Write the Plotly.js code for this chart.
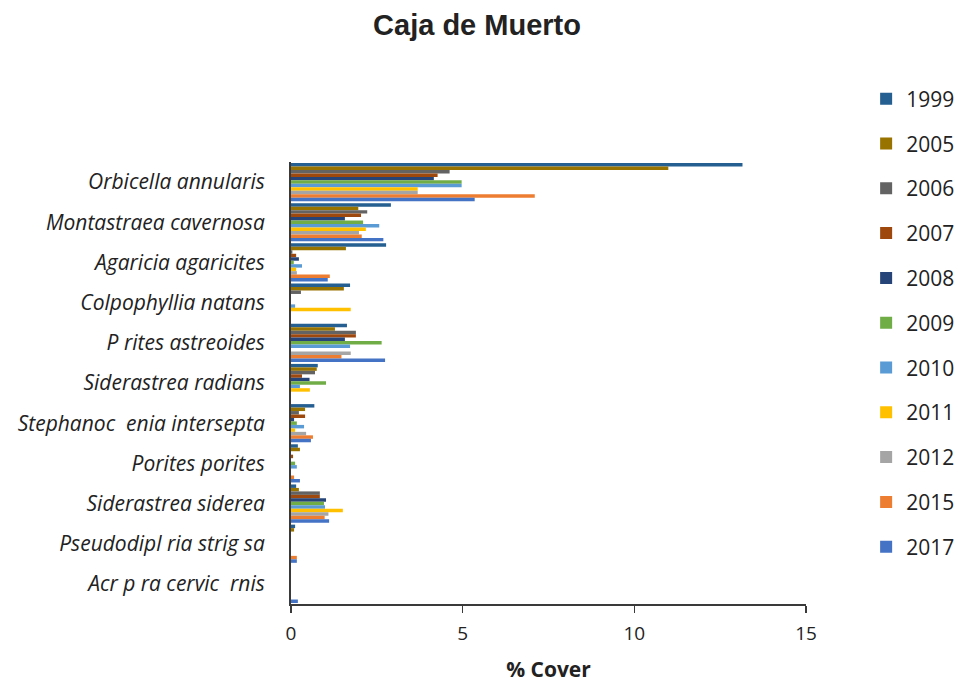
<!DOCTYPE html>
<html>
<head>
<meta charset="utf-8">
<script src="https://cdn.plot.ly/plotly-3.0.1.min.js"></script>
<style>html,body{margin:0;padding:0;background:#fff;}#chart{width:956px;height:683px;}</style>
</head>
<body>
<div id="chart"></div>
<script>
const species = [
  "Orbicella annularis",
  "Montastraea cavernosa",
  "Agaricia agaricites",
  "Colpophyllia natans",
  "P rites astreoides",
  "Siderastrea radians",
  "Stephanoc  enia intersepta",
  "Porites porites",
  "Siderastrea siderea",
  "Pseudodipl ria strig sa",
  "Acr p ra cervic  rnis"
];
const years = ["1999","2005","2006","2007","2008","2009","2010","2011","2012","2015","2017"];
const colors = ["#255E91","#997300","#636363","#9E480E","#264478","#70AD47","#5B9BD5","#FFC000","#A5A5A5","#ED7D31","#4472C4"];

// % cover per year, in species order above
const v1999 = [13.15, 2.91, 2.77, 1.72, 1.63, 0.78, 0.68, 0.20, 0.15, 0.12, 0];
const v2005 = [10.99, 1.96, 1.60, 1.54, 1.28, 0.75, 0.41, 0.26, 0.23, 0.09, 0];
const v2006 = [4.62, 2.22, 0.04, 0.29, 1.89, 0.70, 0.23, 0, 0.84, 0, 0];
const v2007 = [4.27, 2.04, 0.15, 0, 1.89, 0.32, 0.41, 0.06, 0.84, 0, 0];
const v2008 = [4.16, 1.57, 0.23, 0, 1.57, 0.54, 0.09, 0, 1.02, 0, 0];
const v2009 = [4.97, 2.10, 0.08, 0, 2.64, 1.02, 0.17, 0.12, 0.96, 0, 0];
const v2010 = [4.97, 2.57, 0.32, 0.12, 1.72, 0.26, 0.38, 0.17, 0.99, 0, 0];
const v2011 = [3.69, 2.18, 0.15, 1.74, 0, 0.55, 0.12, 0, 1.51, 0, 0];
const v2012 = [3.69, 1.98, 0.17, 0, 1.74, 0, 0.44, 0, 1.09, 0, 0];
const v2015 = [7.10, 2.06, 1.13, 0, 1.47, 0, 0.64, 0.09, 0.98, 0.17, 0];
const v2017 = [5.35, 2.69, 1.07, 0, 2.74, 0, 0.58, 0.26, 1.11, 0.17, 0.20];
const series = [v1999, v2005, v2006, v2007, v2008, v2009, v2010, v2011, v2012, v2015, v2017];

const traces = years.map((yr, i) => ({
  type: "bar",
  orientation: "h",
  name: yr,
  legendgroup: yr,
  x: series[i],
  y: species,
  marker: {color: colors[i]},
  hoverinfo: "x+y+name"
}));

const axisColor = "#3a3a3a";
const layout = {
  width: 956,
  height: 683,
  margin: {l: 291, r: 150, t: 162, b: 79},
  paper_bgcolor: "#ffffff",
  plot_bgcolor: "#ffffff",
  barmode: "group",
  bargap: 0.05,
  bargroupgap: 0,
  title: {
    text: "<b>Caja de Muerto</b>",
    font: {family: "Liberation Sans, Arial, sans-serif", size: 29, color: "#222"},
    x: 0.499, xanchor: "center", xref: "container",
    y: 0.963, yanchor: "middle", yref: "container"
  },
  xaxis: {
    range: [0, 15],
    dtick: 5,
    tick0: 0,
    showgrid: false,
    zeroline: false,
    showline: true,
    linecolor: axisColor,
    linewidth: 2,
    ticks: "outside",
    ticklen: 7,
    tickwidth: 1.5,
    tickcolor: axisColor,
    ticklabelstandoff: 4,
    tickfont: {family: "Open Sans, sans-serif", size: 19, color: "#222"},
    title: {
      text: "<b>% Cover</b>",
      font: {family: "Open Sans, sans-serif", size: 21, color: "#222"},
      standoff: 24
    },
    fixedrange: true
  },
  yaxis: {
    type: "category",
    autorange: "reversed",
    showgrid: false,
    zeroline: false,
    showline: true,
    linecolor: axisColor,
    linewidth: 2,
    ticks: "",
    ticklabelstandoff: 20,
    tickfont: {family: "Open Sans, sans-serif", size: 21, color: "#222", style: "italic"},
    fixedrange: true
  },
  showlegend: true,
  legend: {
    xref: "container", yref: "container",
    x: 0.906, xanchor: "left",
    y: 0.885, yanchor: "top",
    traceorder: "grouped",
    tracegroupgap: 14.5,
    maxheight: 620,
    font: {family: "Open Sans, sans-serif", size: 21, color: "#222"},
    bgcolor: "rgba(0,0,0,0)"
  }
};

Plotly.newPlot("chart", traces, layout, {displayModeBar: false, staticPlot: true});
</script>
</body>
</html>
